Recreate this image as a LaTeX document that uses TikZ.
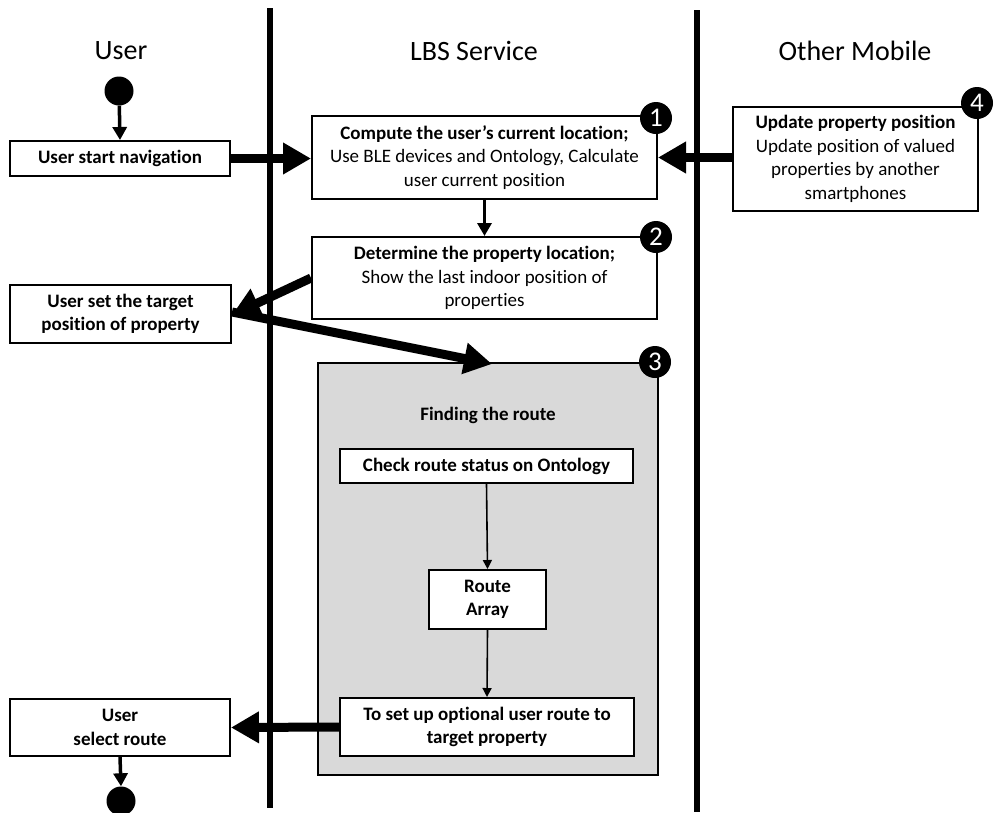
\documentclass[tikz,border=0pt]{standalone}
\usepackage{fontspec}
\setmainfont{Carlito}[Ligatures=NoCommon]
\usetikzlibrary{arrows.meta}

\tikzset{
  box/.style={draw=black, line width=2pt, fill=white, align=center, inner sep=2pt,
    font=\fontsize{19}{23.5}\selectfont},
  lane/.style={line width=5.5pt, black},
  lanetitle/.style={font=\fontsize{28}{30}\selectfont},
  bigflow/.style={line width=9pt, -{Triangle[length=28pt,width=30pt]}},
  midflow/.style={line width=3.5pt, -{Triangle[length=13pt,width=14pt]}},
  thinflow/.style={line width=1.6pt, -{Triangle[length=9pt,width=9pt]}},
  badge/.style={circle, fill=black, minimum size=32pt, inner sep=0pt, text=white,
    font=\fontsize{27}{27}\selectfont},
  terminal/.style={circle, fill=black, minimum size=29pt, inner sep=0pt},
  group/.style={draw=black, line width=2pt, fill=black!15}
}

\begin{document}
\begin{tikzpicture}[x=1pt, y=-1pt]
  \useasboundingbox (0,0) rectangle (995,812);

  % swimlane separators
  \draw[lane] (270,8) -- (270,808);
  \draw[lane] (697,10) -- (697,812);

  % lane headings
  \node[lanetitle] (tUser) at (121,51) {User};
  \node[lanetitle] (tLBS)  at (474,51) {LBS Service};
  \node[lanetitle] (tOther) at (855,51) {Other Mobile};

  % group 3: route finding
  \node[group, minimum width=340pt, minimum height=412pt] (b3) at (488,569) {};
  \node[font=\fontsize{19}{23.5}\selectfont\bfseries] (b3title) at (488,415) {Finding the route};

  % activity boxes
  \node[box, minimum width=220pt, minimum height=35pt] (nav) at (120,158.5)
    {\textbf{User start navigation}};
  \node[box, minimum width=345pt, minimum height=83pt] (b1) at (484.5,157.5)
    {\textbf{Compute the user’s current location;}\\Use BLE devices and Ontology, Calculate\\user current position};
  \node[box, minimum width=245pt, minimum height=104pt] (b4) at (855.5,159)
    {\textbf{Update property position}\\Update position of valued\\properties by another\\smartphones};
  \node[box, minimum width=345pt, minimum height=82pt] (b2) at (484.5,278)
    {\textbf{Determine the property location;}\\Show the last indoor position of\\properties};
  \node[box, minimum width=221pt, minimum height=58pt] (target) at (120.5,314)
    {\textbf{User set the target}\\\textbf{position of property}};
  \node[box, minimum width=293pt, minimum height=34pt] (check) at (486.5,466)
    {\textbf{Check route status on Ontology}};
  \node[box, minimum width=117pt, minimum height=59pt] (array) at (487.5,599.5)
    {\textbf{Route}\\\textbf{Array}};
  \node[box, minimum width=294pt, minimum height=58pt] (setup) at (487,727)
    {\textbf{To set up optional user route to}\\\textbf{target property}};
  \node[box, minimum width=220pt, minimum height=57pt] (select) at (120,727.5)
    {\textbf{User}\\\textbf{select route}};

  % step badges
  \node[badge] (n1) at (656,118) {1};
  \node[badge] (n2) at (656,237) {2};
  \node[badge] (n3) at (655,362) {3};
  \node[badge] (n4) at (977,103) {4};

  % start / end
  \node[terminal] (start) at (119,91) {};
  \node[terminal] (stop) at (121,801) {};

  % flows
  \draw[midflow] (start) -- (nav.north);
  \draw[bigflow] (nav.east) -- (b1.west |- nav.east);
  \draw[bigflow] (b4.west |- b1.east) -- (b1.east);
  \draw[midflow] (b1.south) -- (b2.north);
  \draw[bigflow] (b2.west) -- ([yshift=-1pt]target.east);
  \draw[bigflow] ([yshift=2pt]target.east) -- ([xshift=4pt,yshift=-2pt]b3.north);
  \draw[thinflow] (check.south) -- (array.north);
  \draw[thinflow] (array.south) -- (setup.north);
  \draw[bigflow] (setup.west) -- (select.east);
  \draw[midflow] (select.south) -- (stop.north);
\end{tikzpicture}
\end{document}
